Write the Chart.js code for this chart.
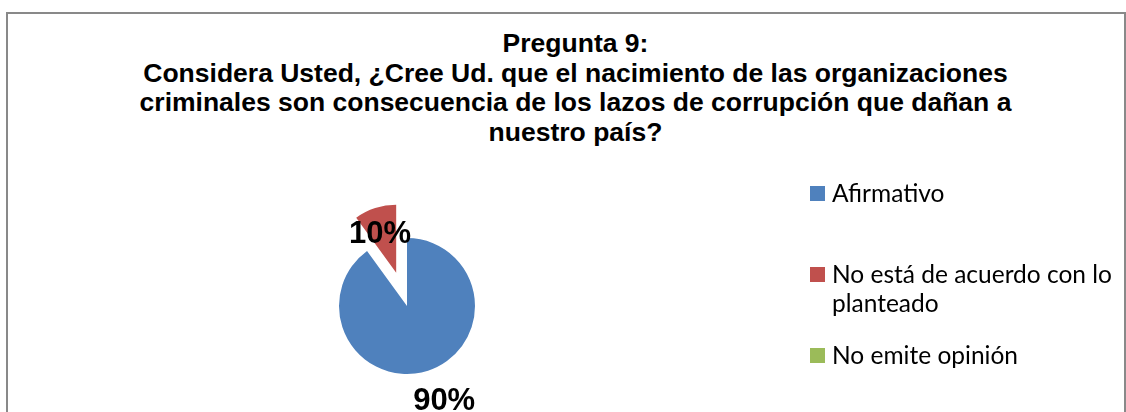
<!DOCTYPE html>
<html>
<head>
<meta charset="utf-8">
<script src="https://cdn.jsdelivr.net/npm/chart.js@4.4.1/dist/chart.umd.min.js"></script>
<style>
  html, body { margin: 0; padding: 0; background: #fff; }
  #wrap { position: relative; width: 1126px; height: 412px; overflow: hidden; }
  #marco {
    position: absolute; left: 6px; top: 12px; width: 1116px; height: 420px;
    border: 2px solid #898989; border-bottom: none;
  }
  #titulo {
    position: absolute; left: 0; top: 29px; width: 1151px;
    font: bold 26.5px "Liberation Sans", Arial, sans-serif; line-height: 29.7px;
    text-align: center; color: #000;
  }
  #lienzo { position: absolute; left: 0; top: 0; width: 1126px; height: 412px; }
  .item { position: absolute; left: 810px; font: 24.5px Lato, "Open Sans", sans-serif; line-height: 29px; color: #000; }
  .item .cuadro { position: absolute; left: 0; top: 9px; width: 15px; height: 15px; }
  .item .texto { position: absolute; left: 22px; top: 1px; white-space: nowrap; }
</style>
</head>
<body>
<div id="wrap">
  <div id="marco"></div>
  <div id="titulo">Pregunta 9:<br>Considera Usted, ¿Cree Ud. que el nacimiento de las organizaciones<br>criminales son consecuencia de los lazos de corrupción que dañan a<br>nuestro país?</div>
  <div id="lienzo"><canvas id="grafico"></canvas></div>
  <div id="leyenda"></div>
</div>
<script>
// Datos de la pregunta 9
const categorias = ['Afirmativo', 'No está de acuerdo con lo planteado', 'No emite opinión'];
const porcentajes = [90, 10, 0];
// lineas de la leyenda (como aparecen en el original)
const textosLeyenda = [['Afirmativo'], ['No está de acuerdo con lo', 'planteado'], ['No emite opinión']];

const colores = ['#4F81BD', '#C0504D', '#9BBB59'];
const separacion = [0, 35, 0];        // porcion separada (px)
const distEtiqueta = [100.5, 43.8];   // distancia de las etiquetas al vertice

// Leyenda
const leyenda = document.getElementById('leyenda');
textosLeyenda.forEach((lineas, i) => {
    const item = document.createElement('div');
    item.className = 'item';
    item.style.top = (177 + i * 81) + 'px';
    const cuadro = document.createElement('span');
    cuadro.className = 'cuadro';
    cuadro.style.background = colores[i];
    const texto = document.createElement('span');
    texto.className = 'texto';
    texto.innerHTML = lineas.join('<br>');
    item.appendChild(cuadro);
    item.appendChild(texto);
    leyenda.appendChild(item);
});

// dibuja cada porcion desplazada segun "separacion"
const separar = {
    id: 'separar',
    beforeDatasetDraw(chart, args) {
        const ctx = chart.ctx;
        args.meta.data.forEach((arc, i) => {
            const d = separacion[i] || 0;
            const mid = (arc.startAngle + arc.endAngle) / 2;
            ctx.save();
            ctx.translate(Math.cos(mid) * d, Math.sin(mid) * d);
            arc.draw(ctx, chart.chartArea);
            ctx.restore();
        });
        return false;
    }
};

// etiquetas de porcentaje
const etiquetas = {
    id: 'etiquetas',
    afterDatasetsDraw(chart) {
        const meta = chart.getDatasetMeta(0);
        const datos = chart.data.datasets[0].data;
        const ctx = chart.ctx;
        ctx.save();
        ctx.font = 'bold 31px "Liberation Sans", Arial, sans-serif';
        ctx.fillStyle = '#000';
        ctx.textAlign = 'center';
        ctx.textBaseline = 'alphabetic';
        meta.data.forEach((arc, i) => {
            if (!datos[i]) return;
            const mid = (arc.startAngle + arc.endAngle) / 2;
            const cx = arc.x + Math.cos(mid) * separacion[i];
            const cy = arc.y + Math.sin(mid) * separacion[i];
            const a = mid - 3.7 * Math.PI / 180;
            const x = cx + Math.cos(a) * distEtiqueta[i];
            const y = cy + Math.sin(a) * distEtiqueta[i];
            ctx.fillText(datos[i] + '%', x, y + 11);
        });
        ctx.restore();
    }
};

new Chart(document.getElementById('grafico'), {
    type: 'pie',
    data: {
        labels: categorias,
        datasets: [{
            data: porcentajes,
            backgroundColor: colores,
            borderWidth: 0
        }]
    },
    options: {
        responsive: true,
        maintainAspectRatio: false,
        animation: false,
        radius: 68,
        layout: { padding: { left: 307, right: 619, top: 206, bottom: 6 } },
        plugins: {
            legend: { display: false },
            tooltip: { enabled: false },
            title: { display: false }
        }
    },
    plugins: [separar, etiquetas]
});
</script>
</body>
</html>
